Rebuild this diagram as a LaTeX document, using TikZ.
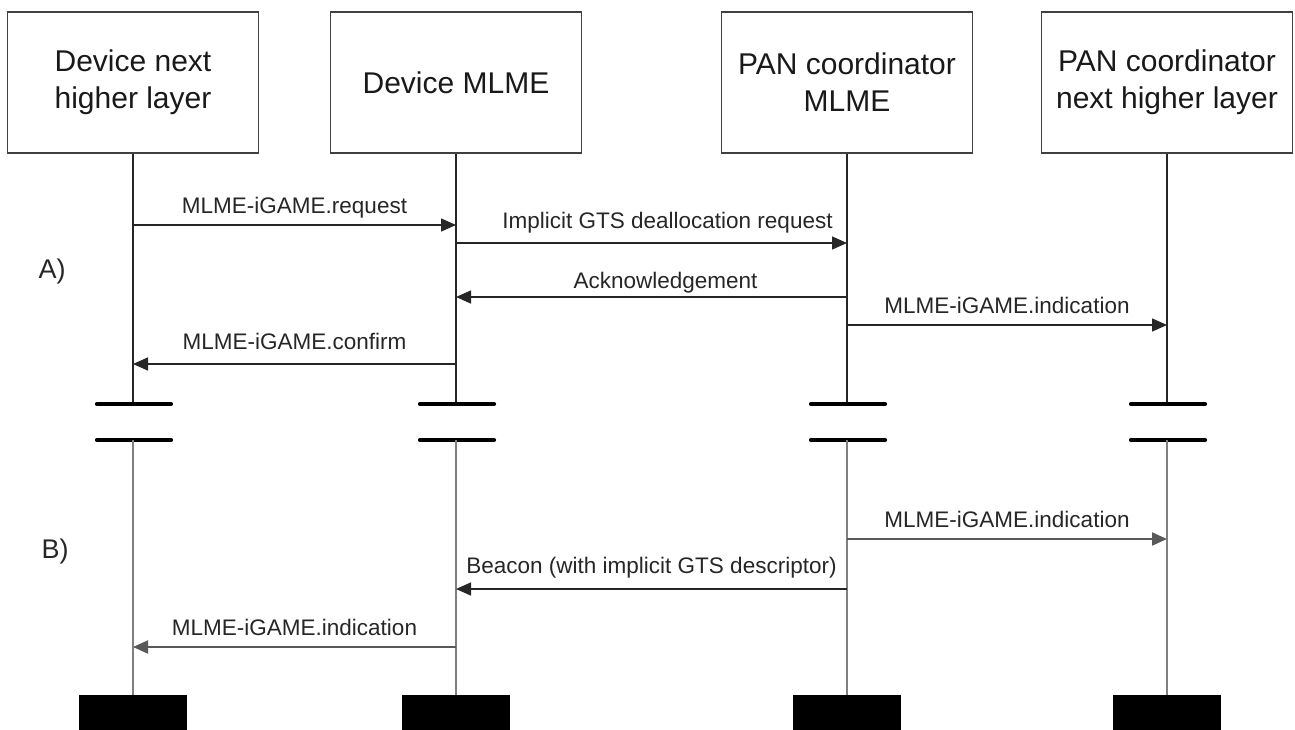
\documentclass[tikz,border=0pt]{standalone}
\usepackage{fontspec}
\setmainfont{Liberation Sans}
\usetikzlibrary{arrows.meta,calc,positioning}

\begin{document}
\begin{tikzpicture}[x=1pt, y=-1pt,
  layer/.style={draw=black!75, line width=1.8pt, minimum width=251pt, minimum height=141pt, inner sep=0pt, align=center, text=black!90, font=\fontsize{30}{37}\selectfont},
  endbox/.style={fill=black, minimum width=108pt, minimum height=36pt, inner sep=0pt},
  life/.style={line width=1.5pt, black!85},
  lifelow/.style={line width=2.8pt, black!50},
  gapbar/.style={line width=4.2pt, line cap=round},
  msg/.style={line width=1.5pt, black!85, -{Triangle[length=15pt,width=13pt]}},
  msglow/.style={msg, line width=2pt, black!65},
  msglabel/.style={midway, anchor=base, yshift=12pt, text=black!85, font=\fontsize{22.5}{27}\selectfont},
  phase/.style={text=black!85, font=\fontsize{27}{32}\selectfont}]
\useasboundingbox (0,0) rectangle (1295,729);
% layers
\node[layer] (dnhl) at (133,82.5) {Device next\\higher layer};
\node[layer] (dmlme) at (456,82.5) {Device MLME};
\node[layer] (pcmlme) at (847,82.5) {PAN coordinator\\MLME};
\node[layer] (pcnhl) at (1167,82.5) {PAN coordinator\\next higher layer};
% lifelines, breaks and end blocks
\foreach \b in {dnhl,dmlme,pcmlme,pcnhl} {
  \draw[life] (\b.south) -- (\b |- 0,404);
  \draw[gapbar] ($(\b |- 0,404)+(-36,0)$) -- ($(\b |- 0,404)+(38,0)$);
  \draw[gapbar] ($(\b |- 0,440)+(-36,0)$) -- ($(\b |- 0,440)+(38,0)$);
  \node[endbox, anchor=north] (\b-end) at (\b |- 0,695) {};
  \draw[lifelow] (\b |- 0,440) -- (\b-end.north);
}
% A)
\node[phase] (phaseA) at (52,272) {A)};
\draw[msg] (dnhl |- 0,225) -- (dmlme |- 0,225) node[msglabel] {MLME-iGAME.request};
\draw[msg] (dmlme |- 0,243) -- (pcmlme |- 0,243) node[msglabel, xshift=16pt, yshift=3pt] {Implicit GTS deallocation request};
\draw[msg] (pcmlme |- 0,297) -- (dmlme |- 0,297) node[msglabel, xshift=14pt, yshift=-3pt] {Acknowledgement};
\draw[msg] (pcmlme |- 0,325) -- (pcnhl |- 0,325) node[msglabel] {MLME-iGAME.indication};
\draw[msg] (dmlme |- 0,364) -- (dnhl |- 0,364) node[msglabel, yshift=3pt] {MLME-iGAME.confirm};
% B)
\node[phase] (phaseB) at (55,552) {B)};
\draw[msglow] (pcmlme |- 0,539) -- (pcnhl |- 0,539) node[msglabel] {MLME-iGAME.indication};
\draw[msg] (pcmlme |- 0,589) -- (dmlme |- 0,589) node[msglabel, yshift=4pt] {Beacon (with implicit GTS descriptor)};
\draw[msglow] (dmlme |- 0,647) -- (dnhl |- 0,647) node[msglabel] {MLME-iGAME.indication};
\end{tikzpicture}
\end{document}
